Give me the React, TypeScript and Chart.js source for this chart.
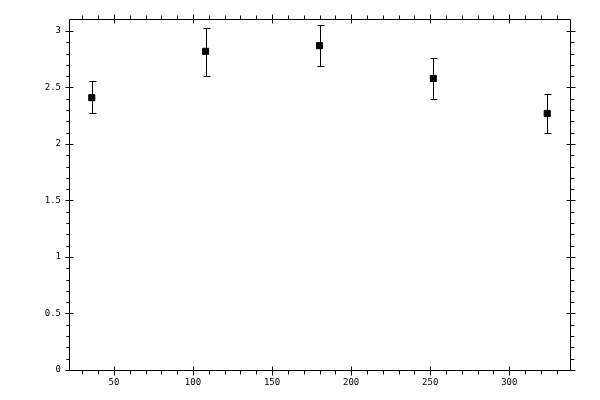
import { useEffect, useRef } from 'react';
import { Chart, ChartConfiguration, registerables } from 'chart.js';

Chart.register(...registerables);

// values
const xValues = [36, 108, 180, 252, 324];
const yValues = [2.41, 2.82, 2.87, 2.58, 2.27];
const yHigh = [2.56, 3.03, 3.05, 2.76, 2.44];
const yLow = [2.27, 2.6, 2.69, 2.4, 2.1];

const xMajorTicks = [50, 100, 150, 200, 250, 300];
const xMinorTicks = [30, 40, 60, 70, 80, 90, 110, 120, 130, 140, 160, 170, 180, 190, 210, 220, 230, 240, 260, 270, 280, 290, 310, 320, 330];
const yMajorTicks = [0, 0.5, 1, 1.5, 2, 2.5, 3];
const yMinorTicks = [
  0.1, 0.2, 0.3, 0.4, 0.6, 0.7, 0.8, 0.9, 1.1, 1.2, 1.3, 1.4, 1.6, 1.7, 1.8, 1.9,
  2.1, 2.2, 2.3, 2.4, 2.6, 2.7, 2.8, 2.9
];

const crisp = (v: number) => Math.round(v) + 0.5;

// frame + inside/outside tick marks like the old plotting tool
const framePlugin = {
  id: 'frame',
  afterDraw(chart: Chart) {
    const { ctx, chartArea: a } = chart;
    const xs = chart.scales.x;
    const ys = chart.scales.y;
    const L = crisp(a.left), R = crisp(a.right), T = crisp(a.top), B = crisp(a.bottom);
    ctx.save();
    ctx.strokeStyle = '#000';
    ctx.lineWidth = 1;
    ctx.beginPath();
    ctx.rect(L, T, R - L, B - T);

    xMajorTicks.forEach(v => {
      const px = crisp(xs.getPixelForValue(v));
      ctx.moveTo(px, B - 4); ctx.lineTo(px, B + 5);
      ctx.moveTo(px, T - 5); ctx.lineTo(px, T + 4);
    });
    xMinorTicks.forEach(v => {
      const px = crisp(xs.getPixelForValue(v));
      ctx.moveTo(px, B); ctx.lineTo(px, B + 4);
      ctx.moveTo(px, T); ctx.lineTo(px, T - 4);
    });
    yMajorTicks.forEach(v => {
      const py = crisp(ys.getPixelForValue(v));
      ctx.moveTo(L - 4, py); ctx.lineTo(L + 4, py);
      ctx.moveTo(R - 4, py); ctx.lineTo(R + 5, py);
    });
    yMinorTicks.forEach(v => {
      const py = crisp(ys.getPixelForValue(v));
      ctx.moveTo(L - 3, py); ctx.lineTo(L, py);
      ctx.moveTo(R, py); ctx.lineTo(R + 4, py);
    });
    ctx.stroke();
    ctx.restore();
  }
};

const errorBarPlugin = {
  id: 'errorBars',
  beforeDatasetsDraw(chart: Chart) {
    const { ctx } = chart;
    const xs = chart.scales.x;
    const ys = chart.scales.y;
    ctx.save();
    ctx.strokeStyle = '#000';
    ctx.lineWidth = 1;
    ctx.beginPath();
    xValues.forEach((x, i) => {
      const px = crisp(xs.getPixelForValue(x));
      const top = crisp(ys.getPixelForValue(yHigh[i]));
      const bot = crisp(ys.getPixelForValue(yLow[i]));
      ctx.moveTo(px, top); ctx.lineTo(px, bot);
      ctx.moveTo(px - 3, top); ctx.lineTo(px + 4, top);
      ctx.moveTo(px - 3, bot); ctx.lineTo(px + 4, bot);
    });
    ctx.stroke();
    ctx.restore();
  }
};

function ErrorBarChart() {
  const canvasRef = useRef<HTMLCanvasElement>(null);
  const chartRef = useRef<Chart | null>(null);

  useEffect(() => {
    if (!canvasRef.current) return;
    if (chartRef.current) chartRef.current.destroy();
    const ctx = canvasRef.current.getContext('2d');
    if (!ctx) return;

    Chart.defaults.font.family = '"DejaVu Sans Mono", monospace';
    Chart.defaults.font.size = 9;
    Chart.defaults.color = '#000';

    const config: ChartConfiguration = {
      type: 'scatter',
      data: {
        datasets: [{
          label: 'values',
          data: xValues.map((x, i) => ({ x, y: yValues[i] })),
          pointStyle: 'rect',
          pointRadius: 4.3,
          pointBorderWidth: 1,
          backgroundColor: '#000',
          borderColor: '#000'
        }]
      },
      options: {
        responsive: true,
        maintainAspectRatio: false,
        animation: false,
        layout: { padding: { left: 0, top: 19, right: 30, bottom: 0 } },
        plugins: {
          legend: { display: false },
          tooltip: { enabled: false }
        },
        scales: {
          x: {
            type: 'linear',
            min: 21.6,
            max: 338.4,
            grid: { display: false, drawTicks: false },
            border: { display: false },
            ticks: { padding: 7, maxRotation: 0, callback: v => String(v) },
            afterBuildTicks: scale => { scale.ticks = xMajorTicks.map(value => ({ value })); },
            afterFit: scale => { scale.height = 30; }
          },
          y: {
            type: 'linear',
            min: 0,
            max: 3.106,
            grid: { display: false, drawTicks: false },
            border: { display: false },
            ticks: { padding: 8, callback: v => String(v) },
            afterBuildTicks: scale => { scale.ticks = yMajorTicks.map(value => ({ value })); },
            afterFit: scale => { scale.width = 69; }
          }
        }
      },
      plugins: [errorBarPlugin, framePlugin]
    };

    chartRef.current = new Chart(ctx, config);

    return () => {
      if (chartRef.current) {
        chartRef.current.destroy();
        chartRef.current = null;
      }
    };
  }, []);

  return (
    <div style={{ position: 'absolute', left: 0, top: 0, width: 600, height: 400, background: '#fff' }}>
      <canvas ref={canvasRef}></canvas>
    </div>
  );
}

export default function App() {
  return <ErrorBarChart />;
}
